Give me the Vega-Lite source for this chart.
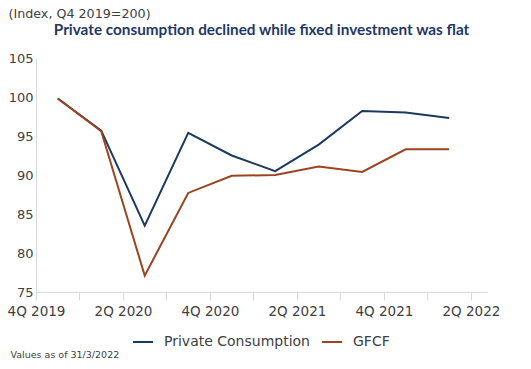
{
  "$schema": "https://vega.github.io/schema/vega-lite/v6.json",
  "width": 451,
  "height": 234,
  "autosize": {"type": "none"},
  "padding": {"left": 36, "top": 58, "right": 44, "bottom": 77},
  "background": "white",
  "config": {
    "view": {"stroke": null},
    "font": "DejaVu Sans"
  },
  "title": {
    "text": "Private consumption declined while fixed investment was flat",
    "anchor": "middle",
    "fontSize": 15.3,
    "fontWeight": "bold",
    "color": "#1f3864",
    "font": "Lato",
    "offset": 0,
    "dy": 31
  },
  "data": {
    "values": [
      {"q": 0.5, "series": "Private Consumption", "v": 99.8},
      {"q": 1.5, "series": "Private Consumption", "v": 95.7},
      {"q": 2.5, "series": "Private Consumption", "v": 83.5},
      {"q": 3.5, "series": "Private Consumption", "v": 95.4},
      {"q": 4.5, "series": "Private Consumption", "v": 92.5},
      {"q": 5.5, "series": "Private Consumption", "v": 90.5},
      {"q": 6.5, "series": "Private Consumption", "v": 93.9},
      {"q": 7.5, "series": "Private Consumption", "v": 98.2},
      {"q": 8.5, "series": "Private Consumption", "v": 98.0},
      {"q": 9.5, "series": "Private Consumption", "v": 97.3},
      {"q": 0.5, "series": "GFCF", "v": 99.8},
      {"q": 1.5, "series": "GFCF", "v": 95.6},
      {"q": 2.5, "series": "GFCF", "v": 77.1},
      {"q": 3.5, "series": "GFCF", "v": 87.7},
      {"q": 4.5, "series": "GFCF", "v": 89.9},
      {"q": 5.5, "series": "GFCF", "v": 90.0},
      {"q": 6.5, "series": "GFCF", "v": 91.1},
      {"q": 7.5, "series": "GFCF", "v": 90.4},
      {"q": 8.5, "series": "GFCF", "v": 93.3},
      {"q": 9.5, "series": "GFCF", "v": 93.3}
    ]
  },
  "mark": {"type": "line", "strokeWidth": 2},
  "encoding": {
    "x": {
      "field": "q",
      "type": "quantitative",
      "scale": {"domain": [0, 10.37], "nice": false, "zero": false},
      "axis": {
        "values": [0, 1, 2, 3, 4, 5, 6, 7, 8, 9, 10],
        "labelExpr": "datum.value == 0 ? '4Q 2019' : datum.value == 2 ? '2Q 2020' : datum.value == 4 ? '4Q 2020' : datum.value == 6 ? '2Q 2021' : datum.value == 8 ? '4Q 2021' : datum.value == 10 ? '2Q 2022' : ''",
        "grid": false,
        "domainColor": "#d9d9d9",
        "tickColor": "#d9d9d9",
        "tickSize": 8,
        "labelColor": "#404040",
        "labelFontSize": 13.5,
        "labelPadding": 4,
        "labelFlush": false,
        "labelOverlap": false,
        "title": "Values as of 31/3/2022",
        "titleX": -26,
        "titleY": 57,
        "titleAlign": "left",
        "titleFontSize": 9.5,
        "titleFontWeight": "normal",
        "titleColor": "#404040"
      }
    },
    "y": {
      "field": "v",
      "type": "quantitative",
      "scale": {"domain": [75, 105], "nice": false, "zero": false},
      "axis": {
        "values": [75, 80, 85, 90, 95, 100, 105],
        "grid": false,
        "ticks": false,
        "domainColor": "#d9d9d9",
        "labelColor": "#404040",
        "labelFontSize": 13,
        "labelPadding": 3,
        "title": "(Index, Q4 2019=200)",
        "titleAngle": 0,
        "titleX": -28,
        "titleY": -45,
        "titleAlign": "left",
        "titleBaseline": "middle",
        "titleFontSize": 12.7,
        "titleFontWeight": "normal",
        "titleColor": "#404040"
      }
    },
    "color": {
      "field": "series",
      "type": "nominal",
      "sort": ["Private Consumption", "GFCF"],
      "scale": {"domain": ["Private Consumption", "GFCF"], "range": ["#1b3a5e", "#9a4420"]},
      "legend": {
        "orient": "none",
        "legendX": 96,
        "legendY": 273,
        "direction": "horizontal",
        "title": null,
        "symbolType": "stroke",
        "symbolSize": 400,
        "symbolStrokeWidth": 2,
        "labelFontSize": 14,
        "labelOffset": 10,
        "labelColor": "#404040",
        "columnPadding": 8
      }
    }
  }
}
